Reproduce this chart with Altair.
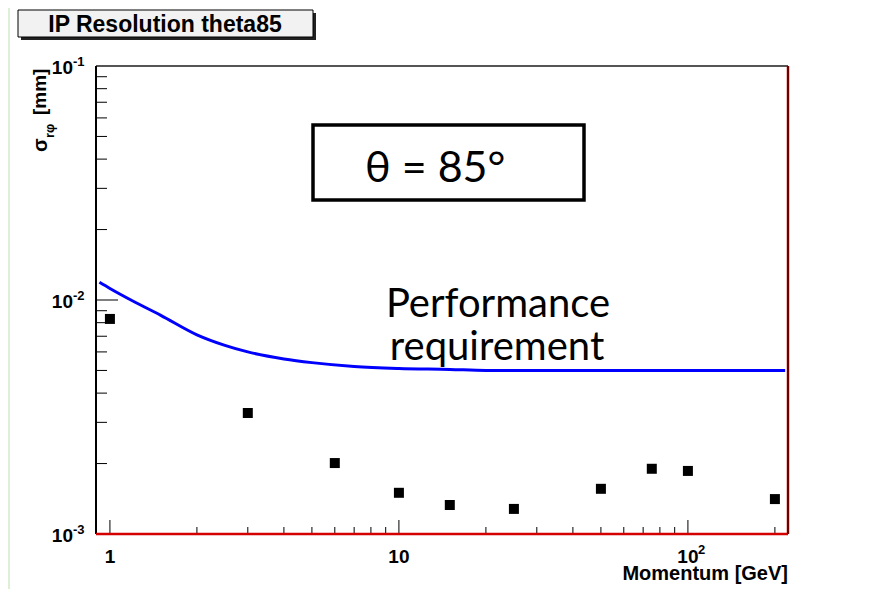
import altair as alt
import pandas as pd

# ---- data ----
momentum = [1, 3, 6, 10, 15, 25, 50, 75, 100, 200]
sigma = [0.0083, 0.00329, 0.00201, 0.00150, 0.00133, 0.00128, 0.00156, 0.00190, 0.00186, 0.00141]

req_momentum = [0.92, 1.0, 1.2, 1.5, 2.0, 2.5, 3.0, 4.0, 5.0, 7.0, 10, 15, 20, 50, 100, 217]
req_sigma = [0.0119, 0.0112, 0.0099, 0.0086, 0.0071, 0.0064, 0.0060, 0.0056, 0.0054,
             0.0052, 0.0051, 0.00505, 0.0050, 0.0050, 0.0050, 0.0050]

x_major = [1, 10, 100]
x_minor = [2, 3, 4, 5, 6, 7, 8, 9, 20, 30, 40, 50, 60, 70, 80, 90, 200]
y_major = [0.001, 0.01, 0.1]
y_minor = [0.002, 0.003, 0.004, 0.005, 0.006, 0.007, 0.008, 0.009,
           0.02, 0.03, 0.04, 0.05, 0.06, 0.07, 0.08, 0.09]

x_label_vals = [1, 10, 100]
x_label_text = ["1", "10", "10"]
x_label_sup = ["", "", "2"]
y_label_vals = [0.001, 0.01, 0.1]
y_label_sup = ["-3", "-2", "-1"]

title_text = "IP Resolution theta85"
x_title = "Momentum [GeV]"
y_title_unit = "[mm]"
y_title_sym = "σ"
y_title_sub = "rφ"
box_text = "θ = 85°"
note_lines = ["Performance", "requirement"]

W, H = 692, 468
FONT = "Liberation Sans"
xs = alt.Scale(type="log", domain=[0.895, 222], nice=False)
ys = alt.Scale(type="log", domain=[0.001, 0.1], nice=False)

one = pd.DataFrame({"k": [0]})
pts = pd.DataFrame({"p": momentum, "s": sigma})
req = pd.DataFrame({"p": req_momentum, "s": req_sigma})
xmaj = pd.DataFrame({"v": x_major})
xmin = pd.DataFrame({"v": x_minor})
ymaj = pd.DataFrame({"v": y_major})
ymin = pd.DataFrame({"v": y_minor})
xl = pd.DataFrame({"v": x_label_vals, "t": x_label_text, "s": x_label_sup})
yl = pd.DataFrame({"v": y_label_vals, "s": y_label_sup, "t": ["10"] * 3})

X = lambda f: alt.X(f, scale=xs, axis=None)
Y = lambda f: alt.Y(f, scale=ys, axis=None)

bg = alt.Chart(one).mark_rect(fill="white").encode(
    x=alt.value(-86), x2=alt.value(779), y=alt.value(-60), y2=alt.value(523))

tshadow = alt.Chart(one).mark_rect(fill="#222222").encode(
    x=alt.value(-75), x2=alt.value(220), y=alt.value(-53), y2=alt.value(-26))
tbox = alt.Chart(one).mark_rect(fill="#f2f2f2", stroke="black", strokeWidth=1).encode(
    x=alt.value(-78), x2=alt.value(217), y=alt.value(-56), y2=alt.value(-29))
ttext = alt.Chart(one).mark_text(font=FONT, fontWeight="bold", fontSize=23, align="center",
                                 baseline="alphabetic", color="black").encode(
    x=alt.value(69), y=alt.value(-34), text=alt.value(title_text))

frame_top = alt.Chart(one).mark_rule(color="#555555", strokeWidth=2).encode(
    x=alt.value(0), x2=alt.value(W), y=alt.value(0))
frame_left = alt.Chart(one).mark_rule(color="black", strokeWidth=2).encode(
    x=alt.value(0), y=alt.value(0), y2=alt.value(H))
frame_bottom = alt.Chart(one).mark_rule(color="#d40000", strokeWidth=2.5).encode(
    x=alt.value(0), x2=alt.value(W), y=alt.value(H))
frame_right = alt.Chart(one).mark_rule(color="#d40000", strokeWidth=2.5).encode(
    x=alt.value(W), y=alt.value(0), y2=alt.value(H))
frame_right2 = alt.Chart(one).mark_rule(color="black", strokeWidth=1).encode(
    x=alt.value(W), y=alt.value(0), y2=alt.value(H))

xt_major = alt.Chart(xmaj).mark_rule(color="black", strokeWidth=1).encode(
    x=X("v:Q"), y=alt.value(H), y2=alt.value(H - 14))
xt_minor = alt.Chart(xmin).mark_rule(color="black", strokeWidth=1).encode(
    x=X("v:Q"), y=alt.value(H), y2=alt.value(H - 7))
yt_major = alt.Chart(ymaj).mark_rule(color="black", strokeWidth=1).encode(
    y=Y("v:Q"), x=alt.value(0), x2=alt.value(22))
yt_minor = alt.Chart(ymin).mark_rule(color="black", strokeWidth=1).encode(
    y=Y("v:Q"), x=alt.value(0), x2=alt.value(11))

curve = alt.Chart(req).mark_line(color="#0000ff", strokeWidth=3, interpolate="monotone").encode(
    x=X("p:Q"), y=Y("s:Q"))
squares = alt.Chart(pts).mark_square(size=100, color="black", opacity=1).encode(
    x=X("p:Q"), y=Y("s:Q"))

xlab = alt.Chart(xl).mark_text(font=FONT, fontWeight="bold", fontSize=19, align="center",
                               baseline="alphabetic", color="black").encode(
    x=X("v:Q"), y=alt.value(H + 29), text="t:N")
xsup = alt.Chart(xl).mark_text(font=FONT, fontWeight="bold", fontSize=13, align="left",
                               baseline="alphabetic", color="black", dx=10).encode(
    x=X("v:Q"), y=alt.value(H + 20), text="s:N")
ylab = alt.Chart(yl).mark_text(font=FONT, fontWeight="bold", fontSize=19, align="right",
                               baseline="alphabetic", color="black", dy=8).encode(
    y=Y("v:Q"), x=alt.value(-23), text="t:N")
ysup = alt.Chart(yl).mark_text(font=FONT, fontWeight="bold", fontSize=13, align="left",
                               baseline="alphabetic", color="black", dy=0).encode(
    y=Y("v:Q"), x=alt.value(-23), text="s:N")

xtitle = alt.Chart(one).mark_text(font=FONT, fontWeight="bold", fontSize=20, align="right",
                                  baseline="alphabetic", color="black").encode(
    x=alt.value(W), y=alt.value(H + 46), text=alt.value(x_title))
yt_unit = alt.Chart(one).mark_text(font=FONT, fontWeight="bold", fontSize=19, align="left",
                                   baseline="alphabetic", angle=270, color="black").encode(
    x=alt.value(-50), y=alt.value(49), text=alt.value(y_title_unit))
yt_sym = alt.Chart(one).mark_text(font=FONT, fontWeight="bold", fontSize=20, align="left",
                                  baseline="alphabetic", angle=270, color="black").encode(
    x=alt.value(-49), y=alt.value(86), text=alt.value(y_title_sym))
yt_sub = alt.Chart(one).mark_text(font=FONT, fontWeight="bold", fontSize=13, align="left",
                                  baseline="alphabetic", angle=270, color="black").encode(
    x=alt.value(-42), y=alt.value(72), text=alt.value(y_title_sub))

bbox = alt.Chart(one).mark_rect(fill="white", stroke="black", strokeWidth=3.5).encode(
    x=alt.value(217), x2=alt.value(488), y=alt.value(59), y2=alt.value(134))
btext = alt.Chart(one).mark_text(font="Lato", fontSize=43, align="left",
                                 baseline="alphabetic", color="black").encode(
    x=alt.value(269), y=alt.value(116), text=alt.value(box_text))
note1 = alt.Chart(one).mark_text(font="Lato", fontSize=40, align="center",
                                 baseline="alphabetic", color="black").encode(
    x=alt.value(402), y=alt.value(251), text=alt.value(note_lines[0]))
note2 = alt.Chart(one).mark_text(font="Lato", fontSize=40, align="center",
                                 baseline="alphabetic", color="black").encode(
    x=alt.value(401), y=alt.value(294), text=alt.value(note_lines[1]))

chart = alt.layer(
    bg, tshadow, tbox, ttext,
    xt_major, xt_minor, yt_major, yt_minor,
    curve, squares,
    frame_top, frame_left, frame_bottom, frame_right, frame_right2,
    xlab, xsup, ylab, ysup, xtitle, yt_unit, yt_sym, yt_sub,
    bbox, btext, note1, note2,
).properties(
    width=W, height=H,
    padding={"left": 88, "top": 58, "right": 85, "bottom": 55},
    autosize=alt.AutoSizeParams(type="none"),
    background="#dfefd5",
).configure_view(stroke=None)

chart.save("out.html", embed_options={"renderer": "svg", "actions": False})
